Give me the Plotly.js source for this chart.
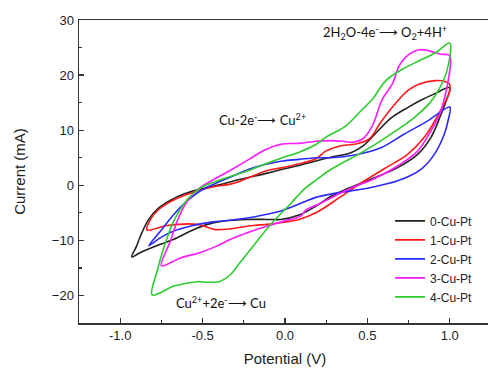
<!DOCTYPE html>
<html>
<head>
<meta charset="utf-8">
<script src="https://cdn.plot.ly/plotly-3.0.1.min.js"></script>
<style>
html,body{margin:0;padding:0;overflow:hidden;background:#fff;}
#chart{width:491px;height:372px;}
</style>
</head>
<body>
<div id="chart"></div>
<script>
// Series names
const seriesNames = ["0-Cu-Pt", "1-Cu-Pt", "2-Cu-Pt", "3-Cu-Pt", "4-Cu-Pt"];

// 0-Cu-Pt loop (upper branch left->right, then lower branch right->left)
const x0 = [-0.93,-0.90,-0.877,-0.827,-0.766,-0.70,-0.614,-0.513,-0.411,-0.27,-0.107,-0.016,0.085,0.187,0.278,0.40,0.48,0.562,0.643,0.744,0.815,0.90,1.00,
            0.98,0.947,0.886,0.805,0.683,0.521,0.359,0.28,0.187,0.085,-0.026,-0.107,-0.229,-0.37,-0.47,-0.573,-0.675,-0.755,-0.877,-0.93];
const y0 = [-13.0,-11.0,-9.2,-6.2,-4.1,-2.8,-1.6,-0.7,0.0,1.1,2.2,2.9,3.6,4.4,5.1,5.9,7.3,9.8,12.2,14.1,15.3,16.5,17.7,
            15.5,12.9,8.7,5.6,3.2,1.1,-0.9,-2.0,-3.8,-5.4,-6.2,-6.2,-6.2,-6.5,-7.1,-8.3,-9.8,-10.7,-12.2,-13.0];

// 1-Cu-Pt loop
const x1 = [-0.837,-0.816,-0.766,-0.664,-0.563,-0.441,-0.32,-0.219,-0.117,-0.016,0.085,0.187,0.247,0.328,0.43,0.511,0.582,0.683,0.75,0.815,0.916,0.975,1.00,
            0.99,0.96,0.926,0.845,0.744,0.602,0.44,0.328,0.187,0.085,-0.03,-0.107,-0.19,-0.289,-0.33,-0.43,-0.53,-0.715,-0.837];
const y1 = [-8.1,-6.2,-4.4,-2.5,-1.3,-0.3,0.3,1.4,2.6,3.2,3.9,4.8,6.2,7.1,7.5,8.4,11.5,15.3,17.3,18.4,19.0,18.8,18.3,
            16.2,14.5,12.6,8.7,5.6,3.0,0.0,-2.3,-5.0,-6.2,-6.8,-7.1,-7.3,-7.7,-7.9,-8.0,-7.1,-7.3,-8.1];

// 2-Cu-Pt loop
const x2 = [-0.827,-0.755,-0.675,-0.593,-0.513,-0.432,-0.33,-0.219,-0.117,-0.016,0.085,0.187,0.278,0.44,0.582,0.724,0.866,1.00,
            0.99,0.967,0.906,0.825,0.683,0.521,0.359,0.278,0.187,0.085,-0.016,-0.117,-0.219,-0.32,-0.42,-0.513,-0.573,-0.675,-0.755,-0.827];
const y2 = [-11.0,-8.3,-5.3,-2.85,-1.0,0.2,1.5,2.9,3.8,4.4,4.7,5.0,5.0,5.6,6.8,9.3,11.7,14.2,
            11.8,9.3,5.6,2.9,0.8,-0.4,-1.2,-1.6,-2.2,-3.4,-4.6,-5.3,-5.9,-6.3,-6.6,-7.0,-7.4,-8.3,-9.5,-11.0];

// 3-Cu-Pt loop
const x3 = [-0.75,-0.715,-0.695,-0.654,-0.593,-0.513,-0.411,-0.32,-0.219,-0.117,-0.016,0.085,0.187,0.27,0.35,0.41,0.47,0.53,0.59,0.653,0.693,0.754,0.815,0.875,0.946,1.00,
            0.99,0.965,0.94,0.886,0.805,0.683,0.541,0.379,0.278,0.20,0.126,0.095,-0.006,-0.107,-0.229,-0.33,-0.411,-0.513,-0.634,-0.75];
const y3 = [-14.6,-11.5,-10.1,-6.5,-2.85,-0.4,1.4,2.9,4.7,6.5,7.5,7.6,8.0,8.1,8.0,7.8,8.4,10.8,15.6,18.5,21.7,23.8,24.6,24.4,23.8,23.5,
            19.0,15.5,13.0,9.9,6.2,3.5,1.2,-0.8,-2.3,-3.5,-4.5,-5.6,-6.5,-7.4,-8.6,-9.8,-11.0,-12.2,-13.2,-14.6];

// 4-Cu-Pt loop
const x4 = [-0.806,-0.776,-0.735,-0.675,-0.593,-0.513,-0.391,-0.229,-0.117,-0.016,0.085,0.187,0.247,0.369,0.47,0.53,0.612,0.714,0.815,0.916,1.00,
            0.98,0.93,0.88,0.784,0.643,0.48,0.28,0.187,0.12,0.035,-0.09,-0.20,-0.28,-0.33,-0.391,-0.46,-0.533,-0.60,-0.675,-0.806];
const y4 = [-19.9,-15.6,-11.3,-6.5,-2.6,-0.5,1.0,2.6,3.9,5.0,6.0,7.4,8.7,10.8,13.8,15.6,19.0,21.1,22.6,24.1,25.8,
            20.5,17.2,15.0,12.3,9.3,6.2,2.9,0.9,-0.6,-3.3,-7.2,-11.3,-14.3,-16.2,-17.4,-17.6,-17.5,-17.8,-18.3,-19.9];

const xs = [x0, x1, x2, x3, x4];
const ys = [y0, y1, y2, y3, y4];
const colors = ["#222222", "#ff1a1a", "#2a2aff", "#ff1aff", "#2ecc2e"];

// Axis ticks
const xTicks = [-1.0, -0.5, 0.0, 0.5, 1.0];
const xTickText = ["-1.0", "-0.5", "0.0", "0.5", "1.0"];
const yTicks = [-20, -10, 0, 10, 20, 30];

const traces = seriesNames.map((n, i) => ({
  x: xs[i], y: ys[i], name: n, type: 'scatter', mode: 'lines',
  line: {color: colors[i], width: 1.6, shape: 'spline', smoothing: 1.0}
}));

const axisCommon = {
  showline: true, linecolor: '#333', linewidth: 1.5, mirror: true,
  ticks: 'inside', ticklen: 5, tickwidth: 1.2, tickcolor: '#333',
  showgrid: false, zeroline: false,
  tickfont: {family: 'Liberation Sans, Arial, sans-serif', size: 13, color: '#222'}
};

const annFont = {family: 'Lato, Open Sans, sans-serif', size: 13, color: '#111'};

const layout = {
  width: 491, height: 372,
  margin: {l: 79, r: 0, t: 20, b: 49},
  paper_bgcolor: '#fff', plot_bgcolor: '#fff',
  showlegend: true,
  legend: {x: 0.755, y: 0.385, xanchor: 'left', yanchor: 'top', bgcolor: 'rgba(0,0,0,0)',
           font: {family: 'Liberation Sans, Arial, sans-serif', size: 12, color: '#222'},
           tracegroupgap: 0},
  xaxis: Object.assign({}, axisCommon, {
    range: [-1.25, 1.25], tickvals: xTicks, ticktext: xTickText,
    minor: {ticks: 'inside', ticklen: 3, dtick: 0.25, tick0: 0, tickcolor: '#333', tickwidth: 1.2},
    title: {text: 'Potential (V)', font: {family: 'Liberation Sans, Arial, sans-serif', size: 15, color: '#222'}, standoff: 11}
  }),
  yaxis: Object.assign({}, axisCommon, {
    range: [-25, 30], tickvals: yTicks,
    minor: {ticks: 'inside', ticklen: 3, dtick: 5, tick0: 0, tickcolor: '#333', tickwidth: 1.2},
    ticklabelstandoff: 1,
    title: {text: 'Current (mA)', font: {family: 'Liberation Sans, Arial, sans-serif', size: 15, color: '#222'}, standoff: 22}
  }),
  annotations: [
    {x: 0.606, y: 27.8, xref: 'x', yref: 'y', showarrow: false, font: annFont,
     text: '2H<sub>2</sub>O-4e<sup>-</sup>⟶ O<sub>2</sub>+4H<sup>+</sup>'},
    {x: -0.136, y: 12.0, xref: 'x', yref: 'y', showarrow: false, font: annFont,
     text: 'Cu-2e<sup>-</sup>⟶ Cu<sup>2+</sup>'},
    {x: -0.39, y: -21.3, xref: 'x', yref: 'y', showarrow: false, font: annFont,
     text: 'Cu<sup>2+</sup>+2e<sup>-</sup>⟶ Cu'}
  ]
};

Plotly.newPlot('chart', traces, layout, {displayModeBar: false, staticPlot: true});
</script>
</body>
</html>
